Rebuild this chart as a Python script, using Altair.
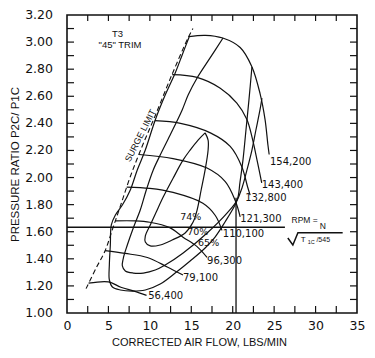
import altair as alt
import pandas as pd

W, H = 290, 298

# ---------------- speed lines (corrected RPM) ----------------
s56_x = [2.6, 5.0, 6.5, 8.2, 9.6]
s56_y = [1.22, 1.23, 1.19, 1.16, 1.13]
s79_x = [4.6, 7.0, 9.7, 12.1, 14.0]
s79_y = [1.46, 1.44, 1.41, 1.34, 1.28]
s96_x = [5.8, 8.2, 10.0, 12.4, 14.0, 15.7, 16.9]
s96_y = [1.68, 1.68, 1.67, 1.63, 1.56, 1.49, 1.41]
s110_x = [7.2, 10.0, 12.8, 16.4, 17.9, 18.7]
s110_y = [1.93, 1.92, 1.89, 1.81, 1.72, 1.61]
s121_x = [8.7, 12.8, 16.9, 19.1, 20.3, 20.9]
s121_y = [2.17, 2.14, 2.07, 1.97, 1.83, 1.71]
s132_x = [10.6, 13.7, 17.3, 19.7, 21.1, 21.8, 22.1]
s132_y = [2.42, 2.40, 2.33, 2.23, 2.08, 1.93, 1.87]
s143_x = [12.7, 15.7, 18.5, 20.5, 21.7, 22.4, 23.0, 23.5]
s143_y = [2.76, 2.74, 2.66, 2.55, 2.43, 2.28, 2.11, 1.96]
s154_x = [14.7, 16.7, 18.8, 20.9, 22.3, 23.3, 23.9, 24.25, 24.4]
s154_y = [3.04, 3.05, 3.03, 2.96, 2.82, 2.62, 2.43, 2.24, 2.17]

speed_names = ["56,400", "79,100", "96,300", "110,100", "121,300", "132,800", "143,400", "154,200"]
speed_lab_x = [9.8, 14.0, 16.9, 18.8, 20.9, 21.5, 23.5, 24.5]
speed_lab_y = [1.126, 1.258, 1.384, 1.583, 1.694, 1.849, 1.945, 2.115]

# ---------------- efficiency contours ----------------
e74_x = [16.67, 15.82, 14.86, 14.02, 12.82, 11.61, 10.77, 10.05, 9.45, 9.45, 10.05, 11.25,
         12.70, 14.26, 15.22, 15.70, 16.19, 16.67, 17.03, 17.03, 16.67]
e74_y = [2.33, 2.277, 2.203, 2.130, 1.997, 1.856, 1.746, 1.650, 1.568, 1.524, 1.495, 1.502,
         1.539, 1.591, 1.672, 1.760, 1.908, 2.056, 2.203, 2.277, 2.33]
e70_x = [18.83, 17.27, 15.70, 14.62, 13.90, 12.45, 11.25, 10.41, 9.57, 8.84, 8.00, 7.28, 6.80,
         6.68, 7.04, 8.00, 9.21, 10.65, 11.85, 14.02, 16.91, 19.31, 20.52, 20.88, 21.24, 21.60,
         21.96, 22.32]
e70_y = [3.030, 2.883, 2.735, 2.609, 2.499, 2.314, 2.166, 2.056, 1.908, 1.760, 1.628, 1.502,
         1.406, 1.347, 1.310, 1.295, 1.295, 1.317, 1.354, 1.443, 1.591, 1.738, 1.834, 1.967,
         2.130, 2.351, 2.573, 2.816]
e65_x = [14.74, 13.90, 13.06, 11.85, 10.65, 9.45, 8.48, 7.64, 6.68, 5.84, 5.35, 5.23, 5.11,
         5.11, 5.48, 6.44, 7.88, 9.45, 11.25, 13.06, 14.86, 16.67, 17.87, 19.07, 20.28, 21.12,
         21.72, 22.32, 22.80, 23.29, 23.53]
e65_y = [3.038, 2.905, 2.772, 2.609, 2.425, 2.203, 2.056, 1.908, 1.797, 1.724, 1.650, 1.502,
         1.354, 1.244, 1.192, 1.170, 1.162, 1.170, 1.214, 1.295, 1.384, 1.480, 1.561, 1.672,
         1.797, 1.923, 2.056, 2.203, 2.351, 2.499, 2.587]

eff_names = ["74%", "70%", "65%"]
eff_lab_x = [13.66, 14.5, 15.82]
eff_lab_y = [1.709, 1.598, 1.517]

# ---------------- surge limit ----------------
surge_x = [2.3, 3.5, 4.6, 5.5, 6.5, 7.6, 9.0, 10.6, 12.6, 14.6, 15.2]
surge_y = [1.18, 1.33, 1.46, 1.62, 1.80, 2.00, 2.22, 2.45, 2.75, 3.03, 3.10]

# ---------------- operating point reference lines ----------------
op_flow = 20.4
op_pr = 1.633
op_h_end = 26.3
op_v_top = 1.85

# ---------------- axes ----------------
x_labels = [0, 5, 10, 15, 20, 25, 30, 35]
y_labels = [1.0, 1.2, 1.4, 1.6, 1.8, 2.0, 2.2, 2.4, 2.6, 2.8, 3.0, 3.2]
y_label_text = ["1.00", "1.20", "1.40", "1.60", "1.80", "2.00", "2.20", "2.40", "2.60",
                "2.80", "3.00", "3.20"]
x_ticks = [2.5, 5, 7.5, 10, 12.5, 15, 17.5, 20, 22.5, 25, 27.5, 30, 32.5]
y_ticks = [1.1, 1.2, 1.3, 1.4, 1.5, 1.6, 1.7, 1.8, 1.9, 2.0, 2.1, 2.2, 2.3, 2.4, 2.5, 2.6,
           2.7, 2.8, 2.9, 3.0, 3.1]

# ---------------- build tables ----------------
rows = []
def add(name, xs, ys):
    for i, (a, b) in enumerate(zip(xs, ys)):
        rows.append({"name": name, "i": i, "x": a, "y": b})

add("s56", s56_x, s56_y)
add("s79", s79_x, s79_y)
add("s96", s96_x, s96_y)
add("s110", s110_x, s110_y)
add("s121", s121_x, s121_y)
add("s132", s132_x, s132_y)
add("s143", s143_x, s143_y)
add("s154", s154_x, s154_y)
add("e70", e70_x, e70_y)
add("e65", e65_x, e65_y)
curves = pd.DataFrame(rows)

rows = []
add("e74", e74_x, e74_y)
island = pd.DataFrame(rows)

surge = pd.DataFrame({"x": surge_x, "y": surge_y, "i": list(range(len(surge_x)))})

xs = alt.Scale(domain=[0, 35], nice=False, zero=False)
ys = alt.Scale(domain=[1.0, 3.2], nice=False, zero=False)

x_axis = alt.Axis(values=x_labels, format="d", ticks=False, domain=False, grid=False,
                  labelFont="DejaVu Sans", labelFontSize=12.5, labelPadding=6,
                  labelColor="#111", labelFlush=False, labelOverlap=False,
                  title="CORRECTED AIR FLOW, LBS/MIN", titleFont="Liberation Sans",
                  titleFontSize=11, titleFontWeight="normal", titleColor="#111",
                  titleX=132, titleY=29, titleBaseline="middle", titleAlign="center")
y_axis = alt.Axis(values=y_labels, labels=False, ticks=False, domain=False, grid=False,
                  title="PRESSURE RATIO P2C/ P1C", titleFont="Liberation Sans",
                  titleFontSize=11.5, titleFontWeight="normal", titleColor="#111",
                  titleX=-52, titleY=149, titleAngle=270, titleBaseline="middle",
                  titleAlign="center")

lines = alt.Chart(curves).mark_line(color="#111", strokeWidth=1.2,
                                    interpolate="catmull-rom").encode(
    x=alt.X("x:Q", scale=xs, axis=x_axis),
    y=alt.Y("y:Q", scale=ys, axis=y_axis),
    detail="name:N",
    order="i:Q",
)

isl = alt.Chart(island).mark_line(color="#111", strokeWidth=1.2,
                                  interpolate="catmull-rom").encode(
    x=alt.X("x:Q", scale=xs), y=alt.Y("y:Q", scale=ys), order="i:Q")

surge_line = alt.Chart(surge).mark_line(color="#111", strokeWidth=1.1, strokeDash=[5, 3],
                                        interpolate="catmull-rom").encode(
    x=alt.X("x:Q", scale=xs), y=alt.Y("y:Q", scale=ys), order="i:Q")

ref_h = alt.Chart(pd.DataFrame({"x": [0], "x2": [op_h_end], "y": [op_pr]})).mark_rule(
    color="#111", strokeWidth=1.3).encode(x="x:Q", x2="x2:Q", y="y:Q")
ref_v = alt.Chart(pd.DataFrame({"x": [op_flow], "y": [1.0], "y2": [op_v_top]})).mark_rule(
    color="#111", strokeWidth=1.3).encode(x="x:Q", y="y:Q", y2="y2:Q")

speed_text = alt.Chart(pd.DataFrame({"x": speed_lab_x, "y": speed_lab_y, "t": speed_names})).mark_text(
    align="left", baseline="middle", font="DejaVu Sans", fontSize=10, color="#111").encode(
    x="x:Q", y="y:Q", text="t:N")
eff_text = alt.Chart(pd.DataFrame({"x": eff_lab_x, "y": eff_lab_y, "t": eff_names})).mark_text(
    align="left", baseline="middle", font="DejaVu Sans", fontSize=9.5, color="#111").encode(
    x="x:Q", y="y:Q", text="t:N")

title_text = alt.Chart(pd.DataFrame({"x": [6.1, 6.4], "y": [3.06, 2.98],
                                     "t": ["T3", '"45"   TRIM']})).mark_text(
    align="center", baseline="middle", font="Liberation Sans", fontSize=9.5, color="#111").encode(
    x="x:Q", y="y:Q", text="t:N")

surge_text = alt.Chart(pd.DataFrame({"x": [8.85], "y": [2.31], "t": ["SURGE  LIMIT"]})).mark_text(
    align="center", baseline="middle", font="Liberation Sans", fontSize=9, angle=297,
    color="#111").encode(x="x:Q", y="y:Q", text="t:N")

# y tick labels
y_lab = alt.Chart(pd.DataFrame({"y": y_labels, "t": y_label_text})).mark_text(
    align="right", baseline="middle", font="DejaVu Sans", fontSize=12.5, color="#111").encode(
    x=alt.value(-14), y="y:Q", text="t:N")

# RPM = N / sqrt(T1C/545)
rpm_text = alt.Chart(pd.DataFrame({"x": [27.1, 30.5], "y": [1.687, 1.645],
                                   "t": ["RPM =", "N"]})).mark_text(
    align="left", baseline="middle", font="Liberation Sans", fontSize=8.5, color="#111").encode(
    x="x:Q", y="y:Q", text="t:N")
rad_x = [26.65, 27.26, 27.87, 33.27]
rad_y = [1.554, 1.502, 1.592, 1.592]
radical = alt.Chart(pd.DataFrame({"x": rad_x, "y": rad_y, "i": [0, 1, 2, 3]})).mark_line(
    color="#111", strokeWidth=1.5).encode(x="x:Q", y="y:Q", order="i:Q")
den_text = alt.Chart(pd.DataFrame({"x": [28.2, 29.05, 30.1], "y": [1.538, 1.522, 1.538],
                                   "t": ["T", "1C", "/545"], "s": [8, 5.5, 7]})).mark_text(
    align="left", baseline="middle", font="Liberation Sans", color="#111").encode(
    x="x:Q", y="y:Q", text="t:N", size=alt.Size("s:Q", scale=None, legend=None))

# inward ticks on all four sides
tx = pd.DataFrame({"x": x_ticks})
ty = pd.DataFrame({"y": y_ticks})
tick_b = alt.Chart(tx).mark_rule(color="#111", strokeWidth=1.2).encode(
    x="x:Q", y=alt.value(H), y2=alt.value(H - 7))
tick_t = alt.Chart(tx).mark_rule(color="#111", strokeWidth=1.2).encode(
    x="x:Q", y=alt.value(0), y2=alt.value(6))
tick_l = alt.Chart(ty).mark_rule(color="#111", strokeWidth=1.2).encode(
    y="y:Q", x=alt.value(0), x2=alt.value(7))
tick_r = alt.Chart(ty).mark_rule(color="#111", strokeWidth=1.2).encode(
    y="y:Q", x=alt.value(W), x2=alt.value(W - 7))

chart = alt.layer(
    lines, isl, surge_line, ref_h, ref_v, speed_text, eff_text, title_text, surge_text,
    y_lab, rpm_text, radical, den_text, tick_b, tick_t, tick_l, tick_r
).properties(
    width=W, height=H,
    autosize=alt.AutoSizeParams(type="none"),
    padding={"left": 59, "top": 7, "right": 10, "bottom": 37},
    background="white",
).configure_view(stroke="#111", strokeWidth=1.6)

chart.save("out.html", embed_options={"renderer": "svg", "actions": False})
